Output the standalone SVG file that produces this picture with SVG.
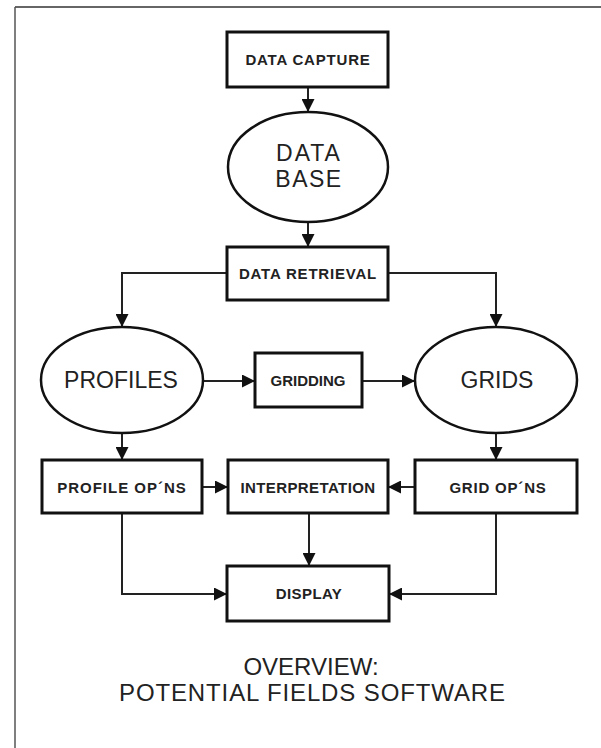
<svg xmlns="http://www.w3.org/2000/svg" width="601" height="748" viewBox="0 0 601 748">
<style>
.box{fill:#fff;stroke:#111;stroke-width:3}
.ell{fill:#fff;stroke:#111;stroke-width:2.5}
.con{fill:none;stroke:#222;stroke-width:2}
.lbl{font-family:"Liberation Sans",Arial,sans-serif;font-weight:bold;font-size:15px;fill:#222;text-anchor:middle}
.big{font-family:"Liberation Sans",Arial,sans-serif;font-size:23px;fill:#222;text-anchor:middle}
.ttl{font-family:"Liberation Sans",Arial,sans-serif;font-size:24px;fill:#222;text-anchor:middle}
</style>
<defs>
<marker id="ah" markerUnits="userSpaceOnUse" markerWidth="13" markerHeight="13" refX="13" refY="6.5" orient="auto">
<path d="M0,0 L13,6.5 L0,13 z" fill="#111"/>
</marker>
</defs>
<rect width="601" height="748" fill="#fff"/>
<g id="frame">
<line x1="15" y1="7" x2="601" y2="7" stroke="#333" stroke-width="1.5"/>
<line x1="15" y1="7" x2="15" y2="748" stroke="#555" stroke-width="1.5"/>
</g>
<g id="connectors">
<line class="con" x1="308" y1="87" x2="308" y2="112" marker-end="url(#ah)"/>
<line class="con" x1="308" y1="222" x2="308" y2="247" marker-end="url(#ah)"/>
<polyline class="con" points="227,273 122,273 122,327" marker-end="url(#ah)"/>
<polyline class="con" points="388,273 496,273 496,327" marker-end="url(#ah)"/>
<line class="con" x1="203" y1="381" x2="255" y2="381" marker-end="url(#ah)"/>
<line class="con" x1="362" y1="381" x2="415" y2="381" marker-end="url(#ah)"/>
<line class="con" x1="122" y1="433" x2="122" y2="460" marker-end="url(#ah)"/>
<line class="con" x1="496" y1="433" x2="496" y2="460" marker-end="url(#ah)"/>
<line class="con" x1="202" y1="487" x2="228" y2="487" marker-end="url(#ah)"/>
<line class="con" x1="415" y1="487" x2="388" y2="487" marker-end="url(#ah)"/>
<line class="con" x1="309" y1="513" x2="309" y2="566" marker-end="url(#ah)"/>
<polyline class="con" points="122,513 122,594 227,594" marker-end="url(#ah)"/>
<polyline class="con" points="496,513 496,594 389,594" marker-end="url(#ah)"/>
</g>
<g id="data_capture">
<rect class="box" x="227" y="32" width="161" height="55"/>
<text class="lbl" x="308" y="65" letter-spacing="0.8">DATA CAPTURE</text>
</g>
<g id="data_base">
<ellipse class="ell" cx="308" cy="167" rx="80" ry="55"/>
<text class="big" x="309" y="161" font-size="22" letter-spacing="2">DATA</text>
<text class="big" x="309" y="187" font-size="22" letter-spacing="1.5">BASE</text>
</g>
<g id="data_retrieval">
<rect class="box" x="227" y="247" width="161" height="53"/>
<text class="lbl" x="308" y="279" letter-spacing="0.8">DATA RETRIEVAL</text>
</g>
<g id="profiles">
<ellipse class="ell" cx="122" cy="380" rx="81" ry="53"/>
<text class="big" x="121" y="388">PROFILES</text>
</g>
<g id="gridding">
<rect class="box" x="255" y="353" width="107" height="54"/>
<text class="lbl" x="308" y="386">GRIDDING</text>
</g>
<g id="grids">
<ellipse class="ell" cx="496" cy="380" rx="81" ry="53"/>
<text class="big" x="497" y="388">GRIDS</text>
</g>
<g id="profile_opns">
<rect class="box" x="42" y="460" width="160" height="53"/>
<text class="lbl" x="122" y="493" letter-spacing="1">PROFILE OP´NS</text>
</g>
<g id="interpretation">
<rect class="box" x="228" y="460" width="160" height="53"/>
<text class="lbl" x="308" y="493" letter-spacing="0.4">INTERPRETATION</text>
</g>
<g id="grid_opns">
<rect class="box" x="415" y="460" width="162" height="53"/>
<text class="lbl" x="498" y="493" letter-spacing="0.8">GRID OP´NS</text>
</g>
<g id="display">
<rect class="box" x="227" y="566" width="162" height="55"/>
<text class="lbl" x="309" y="599" letter-spacing="0.4">DISPLAY</text>
</g>
<g id="title">
<text class="ttl" x="311" y="675">OVERVIEW:</text>
<text class="ttl" x="312" y="701" textLength="386" lengthAdjust="spacing">POTENTIAL FIELDS SOFTWARE</text>
</g>
</svg>
